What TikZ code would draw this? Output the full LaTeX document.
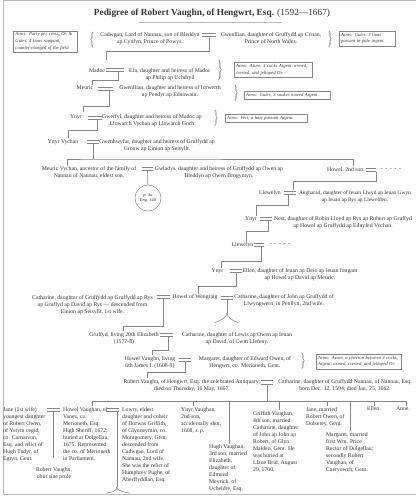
\documentclass[tikz,border=0pt]{standalone}
\usepackage{fontspec}
\setmainfont{Liberation Serif}
\usetikzlibrary{positioning, calc}
\definecolor{inkgray}{RGB}{50,50,50}
\definecolor{linegray}{RGB}{135,135,135}
\definecolor{framegray}{RGB}{185,185,185}
\tikzset{
  person/.style={inner sep=0pt, align=center, text=inkgray,
                 font=\fontsize{8.6}{10.5}\selectfont},
  kid/.style={person, align=left, anchor=north west},
  arms/.style={rectangle, draw=linegray, line width=0.7pt, inner sep=3pt,
               align=left, text=inkgray, font=\fontsize{7}{10}\selectfont\itshape},
  crest/.style={inner sep=0pt, text=inkgray},
  wed/.style={inner sep=0pt, minimum height=4.5pt},
  lin/.style={draw=linegray, line width=0.9pt},
}
\newcommand{\wed}[3]{%
  \node[wed, minimum width=#3*1.5pt] (#1) at (#2) {};
  \draw[lin] (#1.north west) -- (#1.north east) (#1.south west) -- (#1.south east);}

\begin{document}
\begin{tikzpicture}[x=1.5pt, y=-1.5pt]
  \useasboundingbox (0,0) rectangle (416,500);
  \draw[framegray, line width=1pt] (3,0.6) rectangle (420,494);

  % Title
  \node[text=inkgray, font=\fontsize{14}{14}\selectfont] (title) at (212,13)
    {\textbf{Pedigree of Robert Vaughn, of Hengwrt, Esq.} (1592---1667)};
  \draw[framegray, line width=1pt] ($(title.south)+(-73,3)$) -- ($(title.south)+(70,3)$);

  % Cadwgan and Gwenllian
  \node[arms, text width=90pt] (arms1) at (45.5,41.5)
    {Arms: Party per cross, Or, \&\\Gules, 4 lions rampant,\\counter-charged of the field.};
  \node[crest] (brace1) at (92,40) {$\bigg\{$};
  \node[person] (cadwgan) at (150,38.5)
    {Cadwgan, Lord of Nannau, son of Bleddyn\\ap Cynfyn, Prince of Powys.};
  \wed{w1}{209,34.5}{14}
  \node[person] (gwenllian1) at (271,38.5)
    {Gwenllian, daughter of Gruffydd ap Cynan,\\Prince of North Wales.};
  \node[crest] (brace2) at (330,39.5) {$\bigg\}$};
  \node[arms, text width=78pt] (arms2) at (367,38.5)
    {Arms: Gules, 3 lions\\passant in pale argent.};

  % Madoc and Efa
  \node[person] (madoc) at (97,71) {Madoc};
  \wed{w2}{115,69.5}{18}
  \node[person] (efa) at (170,75)
    {Efa, daughter and heiress of Madoc\\ap Philip ap Uchdryd};
  \node[crest] (brace3) at (220,70) {$\Bigg\}$};
  \node[arms, text width=111pt] (arms3) at (273,70)
    {Arms: Azure, 3 cocks Argent, armed,\\crested, and jelloped Or.};
  \coordinate (s2) at (106,60);
  \draw[lin] (w1.south) -- ++(0,15) -| (s2);

  % Meuric and Gwenllian
  \node[person] (meuric) at (85,88) {Meuric};
  \wed{w3}{105.5,88.5}{15}
  \node[person] (gwenllian2) at (170,92)
    {Gwenllian, daughter and heiress of Iorwerth\\ap Pendyr ap Ednowain.};
  \node[crest] (brace4) at (236,93) {$\bigg\}$};
  \node[arms, text width=123pt] (arms4) at (287,95)
    {Arms: Gules, 3 snakes nowed Argent.};
  \coordinate (s3) at (92,85);
  \draw[lin] ([xshift=4.5pt]w2.south) -- ++(0,9) -| (s3);

  % Ynyr and Gwerfyl
  \node[person] (ynyr1) at (76,117) {Ynyr};
  \wed{w4}{95,117.5}{14}
  \node[person] (gwerfyl) at (152,120.5)
    {Gwerfyl, daughter and heiress of Madoc ap\\Llowarch Vychan ap Llowarch Goch};
  \node[crest] (brace5) at (216,118) {$\bigg\}$};
  \node[arms, text width=117pt] (arms5) at (266,118)
    {Arms: Vert, a hart passant Argent.};
  \coordinate (s4) at (83,112);
  \draw[lin] ([xshift=5pt]w3.south) -- ++(0,16) -| (s4);

  % Ynyr Vychan and Gwenhwyfar
  \node[person] (ynyrv) at (63,142) {Ynyr Vychan};
  \wed{w5}{93,141.8}{12}
  \node[person] (gwenhwyfar) at (157,145.5)
    {Gwenhwyfar, daughter and heiress of Gruffydd ap\\Gronw ap Einion ap Seisyllt.};
  \coordinate (s5) at (68,138);
  \draw[lin] ([xshift=3pt]w4.south) -- ++(0,11) -| (s5);

  % Meuric Vychan and Gwladys, Howel
  \node[person] (meuricv) at (89,172.5)
    {Meuric Vychan, ancestor of the family of\\Nannau of Nannau, eldest son.};
  \wed{w6}{147.5,169}{11}
  \node[person] (gwladys) at (219,172.5)
    {Gwladys, daughter and heiress of Gruffydd ap Owen ap\\Bleddyn ap Owen Brogyntyn.};
  \node[circle, draw=linegray, line width=0.8pt, minimum size=39pt, inner sep=0pt,
        align=center, text=inkgray, font=\fontsize{6.5}{8}\selectfont\itshape] (fo4) at (148,198)
    {p. 4a\\Eng. 148};
  \draw[lin] (w6.south) -- (fo4);
  \node[person] (howel2) at (346,170) {Howel, 2nd son.};
  \wed{w7}{371,170}{10}
  \node[person] (unknown1) at (391,170) {-\hspace{4pt}-\hspace{4pt}-\hspace{4pt}-\hspace{4pt}-};
  \coordinate (bar6) at (93,159);
  \coordinate (s6a) at (67,166);
  \coordinate (s6b) at (353,166);
  \draw[lin] (w5.south) -- (w5.south |- bar6);
  \draw[lin] (s6a) |- (bar6) -| (s6b);

  % Llewelyn and Angharad
  \node[person] (llew1) at (270,193) {Llewelyn};
  \wed{w8}{290,193}{12}
  \node[person, font=\fontsize{8.1}{10.5}\selectfont] (angharad) at (355,196.5)
    {Angharad, daughter of Ieuan Llwyd ap Ieuan Gwyn\\ap Ieuan ap Rys ap Llewelden.};
  \coordinate (s7) at (293,189.5);
  \draw[lin] (w7.south east) -- ++(0,10) -| (s7);

  % Ynyr and Nest
  \node[person] (ynyr2) at (251,219) {Ynyr};
  \wed{w9}{266,219}{12}
  \node[person] (nest) at (343,222.5)
    {Nest, daughter of Robin Lloyd ap Rys ap Robert ap Gruffyd\\ap Howel ap Gruffydd ap Ednyfed Vychan.};
  \coordinate (s8) at (256,216);
  \draw[lin] ([xshift=-3pt]w8.south) -- ++(0,11) -| (s8);

  % Llewelyn
  \node[person] (llew2) at (242.5,245) {Llewelyn};
  \wed{w10}{259,245}{10}
  \node[person] (unknown2) at (280,245) {-\hspace{4pt}-\hspace{4pt}-\hspace{4pt}-\hspace{4pt}-};
  \coordinate (s9) at (246,242);
  \draw[lin] ([xshift=3pt]w9.south) -- ++(0,11) -| (s9);

  % Ynyr and Ellen
  \node[person] (ynyr3) at (217.5,271) {Ynyr};
  \wed{w11}{236,270.5}{12}
  \node[person] (ellen1) at (300,274.5)
    {Ellen, daughter of Ieuan ap Deio ap Ieuan fongam\\ap Howel ap David ap Meuric.};
  \coordinate (s10) at (221,268);
  \draw[lin] ([xshift=4pt]w10.south) -- ++(0,15) -| (s10);

  % Howel of Wengraig and his two wives
  \node[person] (cath1) at (92.5,304.8)
    {Catharine, daughter of Gruffydd ap Gruffydd ap Rys\\ap Gruffyd ap David ap Rys --- descended from\\Einion ap Seisyllt, 1st wife.};
  \wed{w12a}{163.5,297}{13}
  \node[person] (howelw) at (195,297.5) {Howel of Wengraig};
  \wed{w12b}{227,298}{12}
  \node[person] (cath2) at (284,301)
    {Catharine, daughter of John ap Gruffydd of\\Llwyngwern, in Penllyn, 2nd wife.};
  \coordinate (s11) at (198,294);
  \draw[lin] (w11.south) -- ++(0,14) -| (s11);
  \draw[lin] (w12b.south) -- ++(0,13) coordinate (fork12);
  \draw[lin] (fork12) .. controls +(0,5) and +(5,-2) .. ++(-12,10);
  \draw[lin] (fork12) .. controls +(0,5) and +(-5,-2) .. ++(11,10);

  % Gruffyd and Catharine
  \node[person] (gruffyd) at (124,339) {Gruffyd, living 20th Elizabeth\\(1577-8)};
  \wed{w13}{166.5,335}{13}
  \node[person] (cath3) at (237,339)
    {Catharine, daughter of Lewis ap Owen ap Ieuan\\ap David, of Cwm Llefeny.};
  \coordinate (s12) at (123,331);
  \draw[lin] (w12a.south) -- ++(0,27.5) -| (s12);

  % Howel Vaughn and Margaret
  \node[person] (howelv) at (150,362.5) {Howel Vaughn, living\\6th James I. (1608-9)};
  \wed{w14}{185,359.5}{11}
  \node[person] (margaret1) at (245,362.5)
    {Margaret, daughter of Edward Owen, of\\Hengwrt, co. Merioneth, Gent.};
  \node[crest] (brace6) at (303,361) {$\bigg\}$};
  \node[arms, text width=121pt] (arms6) at (358.5,361.5)
    {Arms: Azure, a chevron between 3 cocks,\\Argent, armed, crested, and jelloped Or.};
  \coordinate (s13) at (152,355);
  \draw[lin] ([xshift=2pt]w13.south) -- ++(0,13.5) -| (s13);

  % Robert Vaughn and Catharine
  \node[person] (robert) at (192,385.5)
    {Robert Vaughn, of Hengwrt, Esq. the celebrated Antiquary;\\died on Thursday, 16 May, 1667.};
  \node[wed, minimum width=18pt, minimum height=5.5pt] (w15) at (267,382) {};
  \draw[lin] (w15.north west) -- (w15.north east) (w15.south west) -- (w15.south east);
  \node[person] (cath4) at (345,385.5)
    {Catharine, daughter of Gruffydd Nannau, of Nannau, Esq.\\born Dec. 12, 1594; died Jan. 25, 1662.};
  \coordinate (s14) at (147,378);
  \draw[lin] (w14.south) -- ++(0,11) -| (s14);

  % Children of Robert Vaughn
  \node[kid] (jane1) at (3,407)
    {Jane (1st wife)\\youngest daughter\\of Robert Owen,\\of Ystym cegid,\\co. Carnarvon,\\Esq. and relict of\\Hugh Tudyr, of\\Egryn, Gent.};
  \wed{w16a}{53.5,409.5}{13}
  \node[kid] (howelvan) at (63,407)
    {Howel Vaughan, of\\Vanez, co.\\Merioneth, Esq.\\High Sheriff, 1672;\\buried at Dolgellau,\\1675. Represented\\the co. of Merioneth\\in Parliament.};
  \wed{w16b}{112.5,409.5}{13}
  \node[kid] (lowry) at (122,407)
    {Lowry, eldest\\daughter and coheir\\of Dorwas Griffith,\\of Glynneymin, co.\\Montgomery, Gent.\\descended from\\Cadwgan, Lord of\\Nannau, 2nd wife.\\She was the relict of\\Humphrey Pughe, of\\Aberffyddlan, Esq.};
  \node[kid] (ynyrvan) at (181,407)
    {Ynyr Vaughan,\\2nd son,\\accidentally shot,\\1608, \textit{s.\,p.}};
  \node[kid] (hugh) at (209,444.5)
    {Hugh Vaughan,\\3rd son, married\\Elizabeth,\\daughter of\\Edmund\\Meyrick, of\\Ucheldre, Esq.};
  \node[kid] (griffith) at (253,411)
    {Griffith Vaughan,\\4th son, married\\Catharine, daughter\\of John ap John ap\\Robert, of Glyn\\Malden, Gent. He\\was buried at\\Llane Brid, August\\29, 1700.};
  \node[kid] (jane2) at (306,407)
    {Jane, married\\Robert Owen, of\\Dolserey, Gent.};
  \node[kid] (margaret2) at (326,432)
    {Margaret, married\\first Wm. Price\\Rector of Dolgellau;\\secondly Robert\\Vaughan, of\\Caerynwch, Gent.};
  \node[person, anchor=north] (ellen2) at (374,406.5) {Ellen.};
  \node[person, anchor=north] (anne) at (403,406.5) {Anne.};
  \node[person] (robertsp) at (54,474) {Robert Vaughn,\\obiit sine prole};

  \coordinate (bar15) at (268,401);
  \draw[lin] (w15.south) -- (w15.south |- bar15);
  \path (92,401) coordinate (k1) (193,401) coordinate (k2) (229,401) coordinate (k3)
        (279,401) coordinate (k4) (327,401) coordinate (k5) (350,401) coordinate (k6)
        (374,401) coordinate (k7) (406,401) coordinate (k8);
  \draw[lin] (k1) -- (k8);
  \foreach \k/\c in {k1/howelvan, k2/ynyrvan, k3/hugh, k4/griffith,
                     k5/jane2, k6/margaret2, k7/ellen2, k8/anne}
    \draw[lin, shorten >=1pt] (\k) -- (\k |- \c.north);

  % Descendants of Howel Vaughan
  \draw[lin, shorten >=14pt] (w16a.south) -- (w16a.south |- robertsp.north);
  \draw[lin] ([xshift=6.5pt]w16b.south) -- ++(0,76) coordinate (fork16);
  \draw[lin] (fork16) .. controls +(0,4) and +(5,-1) .. ++(-10,6);
  \draw[lin] (fork16) .. controls +(0,4) and +(-5,-1) .. ++(13,6);
\end{tikzpicture}
\end{document}
